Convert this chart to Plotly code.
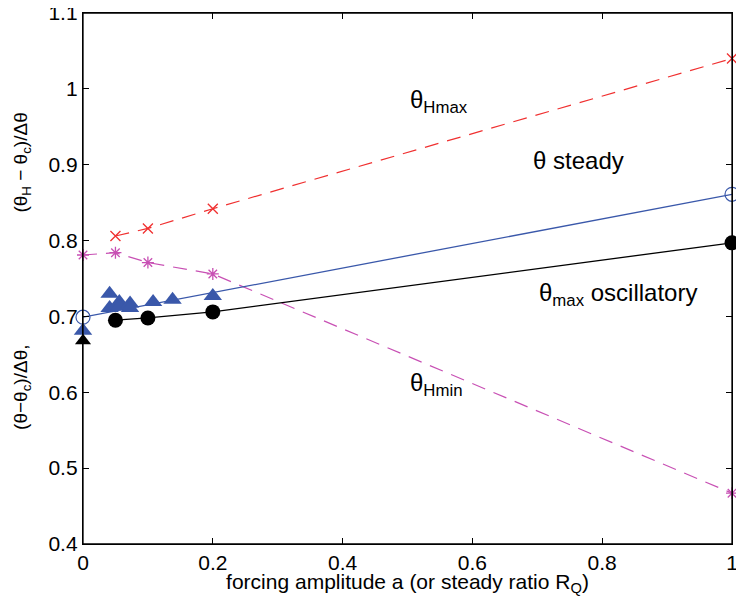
import plotly.graph_objects as go

# theta_Hmax (red dashed, x markers)
hmax_x = [0.05, 0.1, 0.2, 1.0]
hmax_y = [0.806, 0.816, 0.842, 1.040]
# theta_Hmin (magenta dashed, asterisks)
hmin_x = [0.0, 0.05, 0.1, 0.2, 1.0]
hmin_y = [0.781, 0.784, 0.771, 0.756, 0.467]
# theta steady (blue solid, open circles)
steady_x = [0.0, 1.0]
steady_y = [0.699, 0.861]
# theta max oscillatory (black solid, filled circles)
osc_x = [0.05, 0.1, 0.2, 1.0]
osc_y = [0.695, 0.698, 0.706, 0.797]
# blue triangles
tri_x = [0.0, 0.041, 0.041, 0.056, 0.056, 0.0725, 0.0725, 0.108, 0.138, 0.2]
tri_y = [0.681, 0.730, 0.711, 0.719, 0.713, 0.717, 0.711, 0.719, 0.722, 0.727]
# black triangle
btri_x = [0.0]
btri_y = [0.668]

x_ticks = [0, 0.2, 0.4, 0.6, 0.8, 1]
x_labels = ["0", "0.2", "0.4", "0.6", "0.8", "1"]
y_ticks = [0.4, 0.5, 0.6, 0.7, 0.8, 0.9, 1.0, 1.1]
y_labels = ["0.4", "0.5", "0.6", "0.7", "0.8", "0.9", "1", "1.1"]

RED = "#f03030"
MAG = "#c850b4"
BLUE = "#3a58aa"
DASH = "14px,9px"

fig = go.Figure()
fig.add_trace(go.Scatter(x=hmax_x, y=hmax_y, mode="lines+markers", cliponaxis=False,
                         line=dict(color=RED, width=1.2, dash=DASH),
                         marker=dict(symbol="x-thin-open", size=10, color=RED,
                                     line=dict(color=RED, width=1.3))))
fig.add_trace(go.Scatter(x=hmin_x, y=hmin_y, mode="lines+markers", cliponaxis=False,
                         line=dict(color=MAG, width=1.2, dash=DASH),
                         marker=dict(symbol="asterisk-open", size=10, color=MAG,
                                     line=dict(color=MAG, width=1.3))))
fig.add_trace(go.Scatter(x=steady_x, y=steady_y, mode="lines+markers", cliponaxis=False,
                         line=dict(color=BLUE, width=1.3),
                         marker=dict(symbol="circle-open", size=14, color=BLUE,
                                     line=dict(color=BLUE, width=1.2))))
fig.add_trace(go.Scatter(x=osc_x, y=osc_y, mode="lines+markers", cliponaxis=False,
                         line=dict(color="black", width=1.3),
                         marker=dict(symbol="circle", size=15, color="black")))
fig.add_trace(go.Scatter(x=tri_x, y=tri_y, mode="markers", cliponaxis=False,
                         marker=dict(symbol="triangle-up", size=16, color=BLUE)))
fig.add_trace(go.Scatter(x=btri_x, y=btri_y, mode="markers", cliponaxis=False,
                         marker=dict(symbol="triangle-up", size=14, color="black")))

FONT = "Liberation Sans, Arial, sans-serif"
ann = [
    dict(x=0.501, y=0.983, text="θ<sub>Hmax</sub>"),
    dict(x=0.69, y=0.905, text="θ steady"),
    dict(x=0.699, y=0.729, text="θ<sub>max</sub> oscillatory"),
    dict(x=0.501, y=0.610, text="θ<sub>Hmin</sub>"),
]
annotations = [dict(x=a["x"], y=a["y"], text=a["text"], xref="x", yref="y",
                    showarrow=False, xanchor="left", yanchor="middle",
                    font=dict(family=FONT, size=24, color="black")) for a in ann]
annotations.append(dict(
    x=-0.095, y=0.515, xref="paper", yref="paper", showarrow=False,
    xanchor="center", yanchor="middle", textangle=-90,
    text="(θ−θ<sub>c</sub>)/Δθ," + " " * 25 + "(θ<sub>H</sub> − θ<sub>c</sub>)/Δθ",
    font=dict(family=FONT, size=19, color="black")))

common = dict(ticks="inside", ticklen=6, tickcolor="black", tickwidth=1,
              showline=True, linecolor="black", linewidth=1.3,
              showgrid=False, zeroline=False, automargin=False,
              ticklabeloverflow="allow")

fig.update_layout(
    width=736, height=588,
    margin=dict(l=75, r=12, t=5, b=52),
    paper_bgcolor="white", plot_bgcolor="white",
    showlegend=False,
    font=dict(family=FONT, size=21, color="black"),
    annotations=annotations,
    xaxis=dict(range=[0, 1], tickvals=x_ticks, ticktext=x_labels, mirror="ticks",
               title=dict(text="forcing amplitude a (or steady ratio R<sub>Q</sub>)",
                          font=dict(size=21), standoff=9), **common),
    yaxis=dict(range=[0.4, 1.1], tickvals=y_ticks, ticktext=y_labels, mirror="ticks",
               **common),
    shapes=[dict(type="rect", xref="paper", yref="paper", x0=0, y0=0, x1=1, y1=1,
                 line=dict(color="black", width=1.3), layer="above")],
)
fig.write_html("out.html")
